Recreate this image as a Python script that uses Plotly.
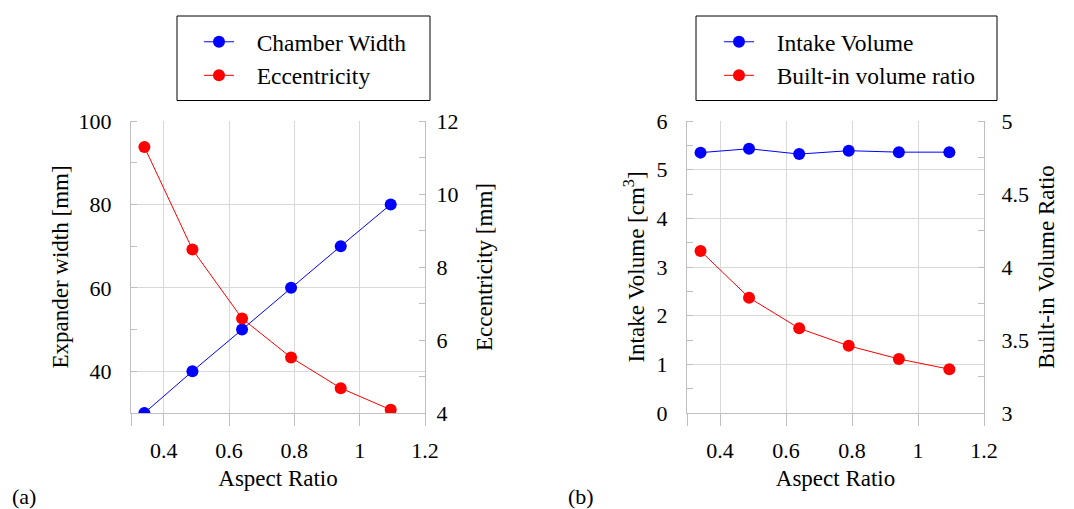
import plotly.graph_objects as go

W, H = 1074, 509

aspect_ratio = [0.341, 0.488, 0.640, 0.790, 0.942, 1.095]
chamber_width = [30, 40, 50, 60, 70, 80]
eccentricity = [11.29, 8.48, 6.59, 5.52, 4.68, 4.09]
intake_volume = [5.35, 5.43, 5.32, 5.39, 5.36, 5.36]
builtin_vr = [4.11, 3.79, 3.58, 3.46, 3.37, 3.30]

FONT = "Liberation Serif"
FS = 22
GRID = "#d9d9d9"
AX = "#bfbfbf"
BLUE = "#0000ff"
RED = "#ff0000"

def px(x):
    return x / W

def py(y):
    return 1 - y / H

fig = go.Figure()

def tr(y, name, color, xa, ya, legend):
    return go.Scatter(x=aspect_ratio, y=y, name="\u00a0\u00a0\u00a0" + name, mode="lines+markers",
                      line=dict(color=color, width=1), marker=dict(color=color, size=12),
                      xaxis=xa, yaxis=ya, legend=legend)

fig.add_trace(tr(chamber_width, "Chamber Width", BLUE, "x", "y", "legend"))
fig.add_trace(tr(eccentricity, "Eccentricity", RED, "x", "y2", "legend"))
fig.add_trace(tr(intake_volume, "Intake Volume", BLUE, "x3", "y3", "legend2"))
fig.add_trace(tr(builtin_vr, "Built-in volume ratio", RED, "x3", "y4", "legend2"))

ydom = [py(413), py(121)]
tf = dict(family=FONT, size=FS, color="black")
ttf = dict(family=FONT, size=23, color="black")
lf = dict(family=FONT, size=23.5, color="black")

def xax(dom, anchor):
    return dict(domain=dom, anchor=anchor, range=[0.3, 1.2], tickvals=[0.4, 0.6, 0.8, 1.0, 1.2],
                ticktext=["0.4", "0.6", "0.8", "1", "1.2"], showgrid=True, gridcolor=GRID, gridwidth=1,
                showline=True, linecolor=AX, linewidth=1, ticks="outside", ticklen=12, tickcolor=AX,
                minor=dict(tickvals=[0.3], ticks="outside", ticklen=12, tickcolor=AX),
                tickfont=tf, ticklabelstandoff=6, zeroline=False, automargin=False,
                title=dict(text="Aspect Ratio", font=ttf, standoff=7))

def yax(rng, vals, texts, mdt, m0, title, side, anchor, grid, overlay=None, stand=14, tstand=3):
    d = dict(domain=ydom, anchor=anchor, range=rng, tickvals=vals, ticktext=texts, side=side,
             showgrid=grid, gridcolor=GRID, gridwidth=1, showline=True, linecolor=AX, linewidth=1,
             ticks="", tickfont=tf, ticklabelstandoff=stand, zeroline=False, automargin=False,
             minor=dict(ticks="inside", ticklen=6, tickcolor=AX, dtick=mdt, tick0=m0, showgrid=False),
             title=dict(text=title, font=ttf, standoff=tstand))
    if overlay:
        d["overlaying"] = overlay
    return d

fig.update_layout(
    width=W, height=H, margin=dict(l=0, r=0, t=0, b=0, autoexpand=False),
    paper_bgcolor="white", plot_bgcolor="white",
    font=dict(family=FONT, size=FS, color="black"),
    xaxis=xax([px(131), px(425)], "y"),
    yaxis=yax([30, 100], [40, 60, 80, 100], ["40", "60", "80", "100"], 10, 30,
              "Expander width [mm]", "left", "x", True, stand=14, tstand=3),
    yaxis2=yax([4, 12], [4, 6, 8, 10, 12], ["4", "6", "8", "10", "12"], 1, 4,
               "Eccentricity [mm]", "right", "x", False, overlay="y", stand=6, tstand=18),
    xaxis3=xax([px(687), px(984)], "y3"),
    yaxis3=yax([0, 6], [0, 1, 2, 3, 4, 5, 6], [str(v) for v in range(7)], 0.5, 0,
               "Intake Volume [cm<sup>3</sup>]", "left", "x3", True, stand=14, tstand=5),
    yaxis4=yax([3, 5], [3, 3.5, 4, 4.5, 5], ["3", "3.5", "4", "4.5", "5"], 0.25, 3,
               "Built-in Volume Ratio", "right", "x3", False, overlay="y3", stand=12, tstand=9),
    legend=dict(x=px(199), y=py(20), xanchor="left", yanchor="top", bgcolor="rgba(0,0,0,0)",
                borderwidth=0, font=lf, tracegroupgap=0),
    legend2=dict(x=px(719), y=py(20), xanchor="left", yanchor="top", bgcolor="rgba(0,0,0,0)",
                 borderwidth=0, font=lf, tracegroupgap=0),
    showlegend=True,
    shapes=[
        dict(type="rect", xref="paper", yref="paper", x0=px(177), x1=px(430), y0=py(100.5), y1=py(16),
             line=dict(color="black", width=1)),
        dict(type="rect", xref="paper", yref="paper", x0=px(696), x1=px(997), y0=py(100.5), y1=py(16),
             line=dict(color="black", width=1)),
    ],
    annotations=[
        dict(text="(a)", x=px(10), y=py(496), xref="paper", yref="paper", xanchor="left",
             yanchor="middle", showarrow=False, font=tf),
        dict(text="(b)", x=px(566), y=py(496), xref="paper", yref="paper", xanchor="left",
             yanchor="middle", showarrow=False, font=tf),
    ],
)

fig.write_html("out.html")
